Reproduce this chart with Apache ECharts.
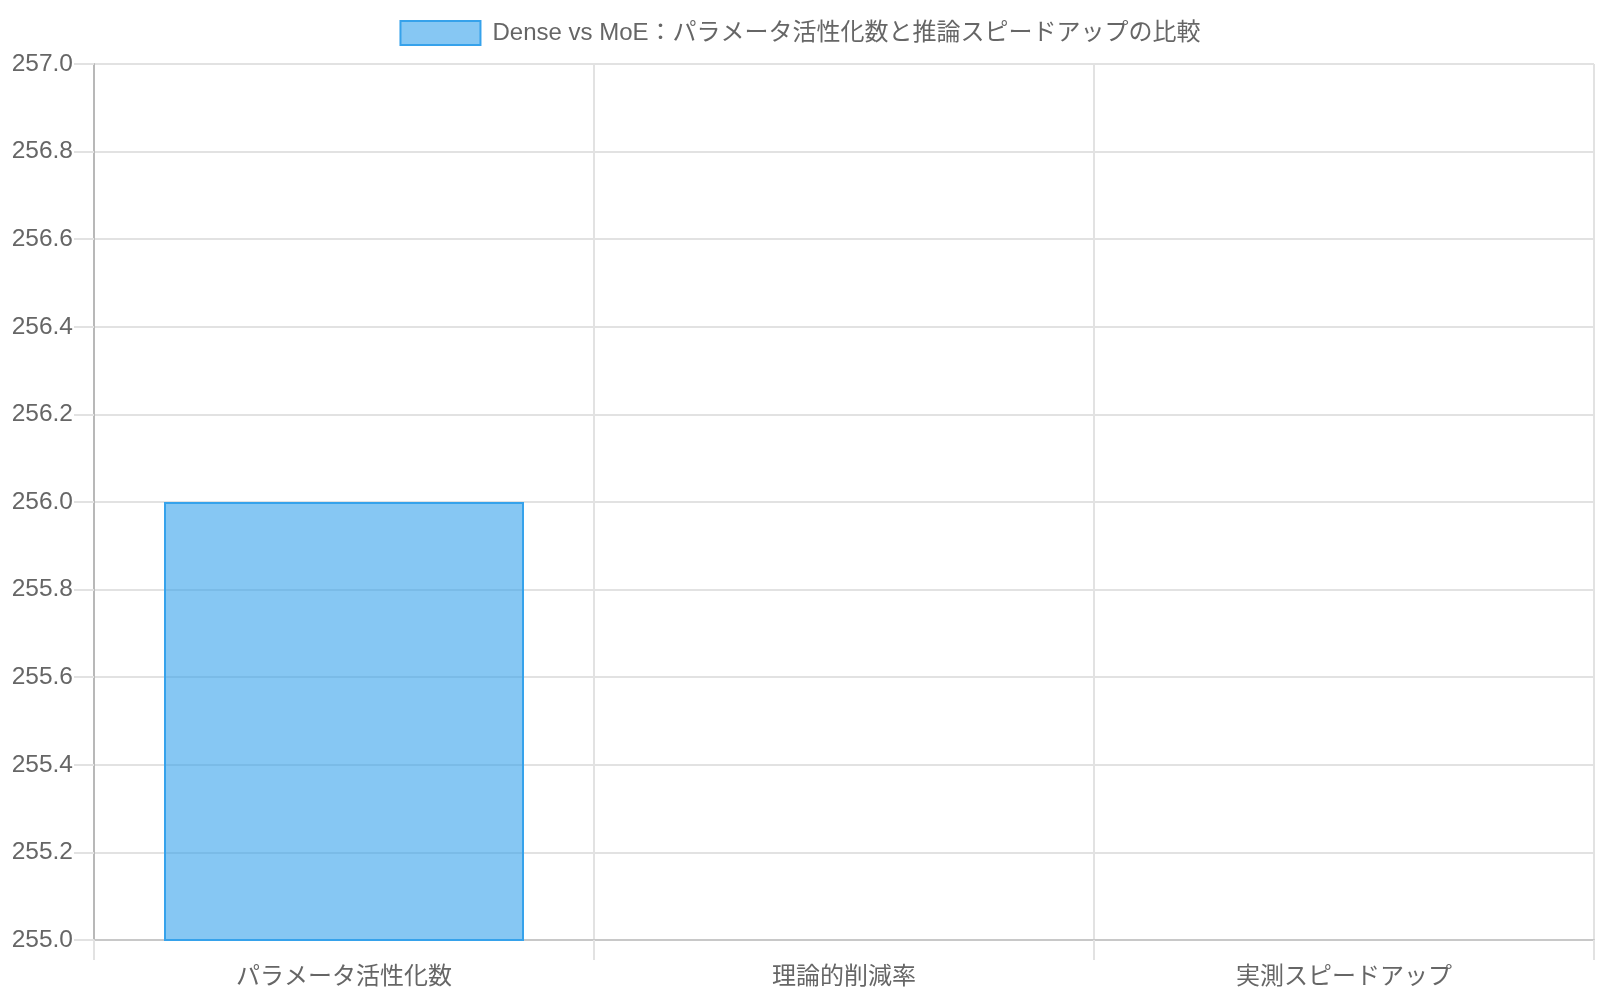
<!DOCTYPE html>
<html><head><meta charset="utf-8">
<script src="https://cdn.jsdelivr.net/npm/echarts@6/dist/echarts.min.js"></script>
<style>html,body{margin:0;padding:0;background:#fff}#c{width:1600px;height:1000px}</style>
</head><body><div id="c"></div>
<script>
const categories = ['パラメータ活性化数', '理論的削減率', '実測スピードアップ'];
const seriesName = 'Dense vs MoE：パラメータ活性化数と推論スピードアップの比較';
const values = [256, null, null];
const yMin = 255, yMax = 257, yStep = 0.2;

const FONT = "'Liberation Sans', Arial, 'Noto Sans CJK JP', sans-serif";
const chart = echarts.init(document.getElementById('c'));
chart.setOption({
  animation: false,
  textStyle: { fontFamily: FONT },
  legend: {
    top: 15, left: 'center',
    itemWidth: 80, itemHeight: 24, itemGap: 10,
    textStyle: { fontSize: 24, color: '#666', fontFamily: FONT, padding: [0, 0, 0, 7] },
    itemStyle: { color: 'rgba(54,162,235,0.6)', borderColor: '#36A2EB', borderWidth: 2 },
    data: [{ name: seriesName, icon: 'rect' }]
  },
  grid: { left: 94, right: 6, top: 64, bottom: 60, containLabel: false },
  xAxis: {
    type: 'category', data: categories, boundaryGap: true,
    axisLine: { show: true, lineStyle: { color: '#c8c8c8', width: 2 } },
    axisTick: { show: true, length: 20, lineStyle: { color: '#e2e2e2', width: 2 } },
    axisLabel: { fontSize: 24, color: '#666', margin: 25, fontFamily: FONT },
    splitLine: { show: true, lineStyle: { color: '#e2e2e2', width: 2 } }
  },
  yAxis: {
    type: 'value', min: yMin, max: yMax, interval: yStep,
    axisLine: { show: true, lineStyle: { color: '#b8b8b8', width: 2 } },
    axisTick: { show: true, length: 20, lineStyle: { color: '#e2e2e2', width: 2 } },
    axisLabel: { fontSize: 24.5, color: '#666', margin: 21, fontFamily: FONT,
      formatter: v => Number(v).toFixed(1) },
    splitLine: { show: true, lineStyle: { color: '#e2e2e2', width: 2 } }
  },
  series: [{
    name: seriesName, type: 'bar', data: values, barWidth: '72%',
    itemStyle: { color: 'rgba(54,162,235,0.6)', borderColor: '#36A2EB', borderWidth: 2 }
  }]
});
</script></body></html>
